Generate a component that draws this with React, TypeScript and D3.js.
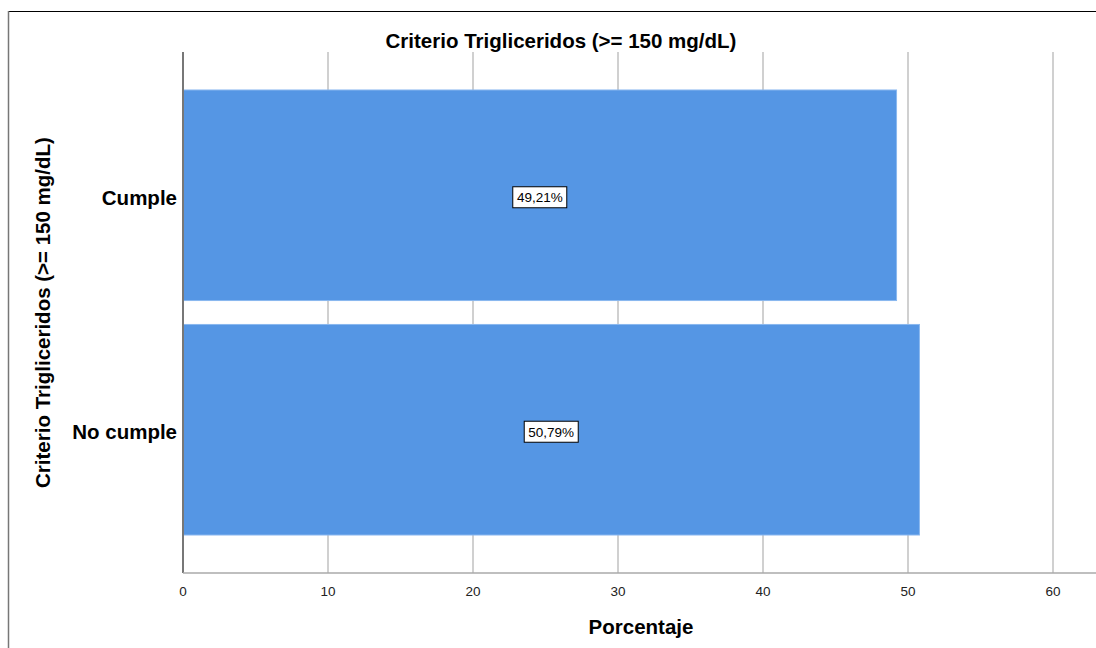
import React, { useRef, useEffect } from 'react';
import * as d3 from 'd3';

const categories = ['Cumple', 'No cumple'];
const percentages = [49.21, 50.79];
const valueLabels = ['49,21%', '50,79%'];
const xTicks = [0, 10, 20, 30, 40, 50, 60];

const App: React.FC = () => {
  const svgRef = useRef<SVGSVGElement>(null);

  useEffect(() => {
    if (!svgRef.current) return;
    const svg = d3.select(svgRef.current);
    svg.selectAll('*').remove();

    const font = 'Arial, "Liberation Sans", sans-serif';
    const left = 183, right = 1053, top = 52, bottom = 573;

    const x = d3.scaleLinear().domain([0, 60]).range([left, right]);
    const y = d3.scaleBand<string>()
      .domain(categories)
      .range([top, bottom])
      .paddingInner(0.102)
      .paddingOuter(0.162);

    // frame
    svg.append('line').attr('x1', 8).attr('x2', 1096).attr('y1', 11.5).attr('y2', 11.5)
      .attr('stroke', '#000').attr('stroke-width', 1.2);
    svg.append('line').attr('x1', 8.5).attr('x2', 8.5).attr('y1', 11).attr('y2', 648)
      .attr('stroke', '#777').attr('stroke-width', 1.5);

    // grid
    svg.append('g')
      .selectAll('line')
      .data(xTicks.slice(1))
      .join('line')
      .attr('x1', d => x(d)).attr('x2', d => x(d))
      .attr('y1', top).attr('y2', bottom)
      .attr('stroke', '#d0d0d0').attr('stroke-width', 2);

    // bars
    svg.append('g')
      .selectAll('rect')
      .data(categories)
      .join('rect')
      .attr('x', x(0))
      .attr('y', d => y(d)!)
      .attr('width', (_, i) => x(percentages[i]) - x(0))
      .attr('height', y.bandwidth())
      .attr('fill', '#5596e4')
      .attr('stroke', '#8ab8ef')
      .attr('stroke-width', 1);

    // value labels
    const lab = svg.append('g')
      .selectAll('g')
      .data(categories)
      .join('g')
      .attr('transform', (d, i) => `translate(${(x(0) + x(percentages[i])) / 2},${y(d)! + y.bandwidth() / 2 + 2})`);
    lab.append('rect')
      .attr('x', -27).attr('y', -10.5).attr('width', 54).attr('height', 21)
      .attr('fill', '#fff').attr('stroke', '#000').attr('stroke-width', 1);
    lab.append('text')
      .attr('text-anchor', 'middle').attr('dy', '0.36em')
      .attr('font-family', font).attr('font-size', 13.5).attr('fill', '#000')
      .text((_, i) => valueLabels[i]);

    // axes lines
    svg.append('line').attr('x1', left).attr('x2', left).attr('y1', top).attr('y2', bottom)
      .attr('stroke', '#777').attr('stroke-width', 2);
    svg.append('line').attr('x1', left).attr('x2', 1096).attr('y1', bottom).attr('y2', bottom)
      .attr('stroke', '#aaa').attr('stroke-width', 1.5);

    // x tick labels
    svg.append('g')
      .selectAll('text')
      .data(xTicks)
      .join('text')
      .attr('x', d => x(d)).attr('y', 596)
      .attr('text-anchor', 'middle')
      .attr('font-family', font).attr('font-size', 13.5).attr('fill', '#222')
      .text(d => d);

    // category labels
    svg.append('g')
      .selectAll('text')
      .data(categories)
      .join('text')
      .attr('x', 177).attr('y', d => y(d)! + y.bandwidth() / 2 + 2)
      .attr('dy', '0.36em')
      .attr('text-anchor', 'end')
      .attr('font-family', font).attr('font-size', 20.5).attr('font-weight', 'bold').attr('fill', '#000')
      .text(d => d);

    // title
    svg.append('text')
      .attr('x', 561).attr('y', 48)
      .attr('text-anchor', 'middle')
      .attr('font-family', font).attr('font-size', 20.5).attr('font-weight', 'bold')
      .text('Criterio Trigliceridos (>= 150 mg/dL)');

    // x axis title
    svg.append('text')
      .attr('x', 641).attr('y', 634)
      .attr('text-anchor', 'middle')
      .attr('font-family', font).attr('font-size', 20.5).attr('font-weight', 'bold')
      .text('Porcentaje');

    // y axis title
    svg.append('text')
      .attr('transform', `translate(50,${(top + bottom) / 2}) rotate(-90)`)
      .attr('text-anchor', 'middle')
      .attr('font-family', font).attr('font-size', 20.5).attr('font-weight', 'bold')
      .text('Criterio Trigliceridos (>= 150 mg/dL)');
  }, []);

  return (
    <svg
      ref={svgRef}
      width={1096}
      height={648}
      style={{ position: 'absolute', left: 0, top: 0, background: '#fff' }}
    />
  );
};

export default App;
